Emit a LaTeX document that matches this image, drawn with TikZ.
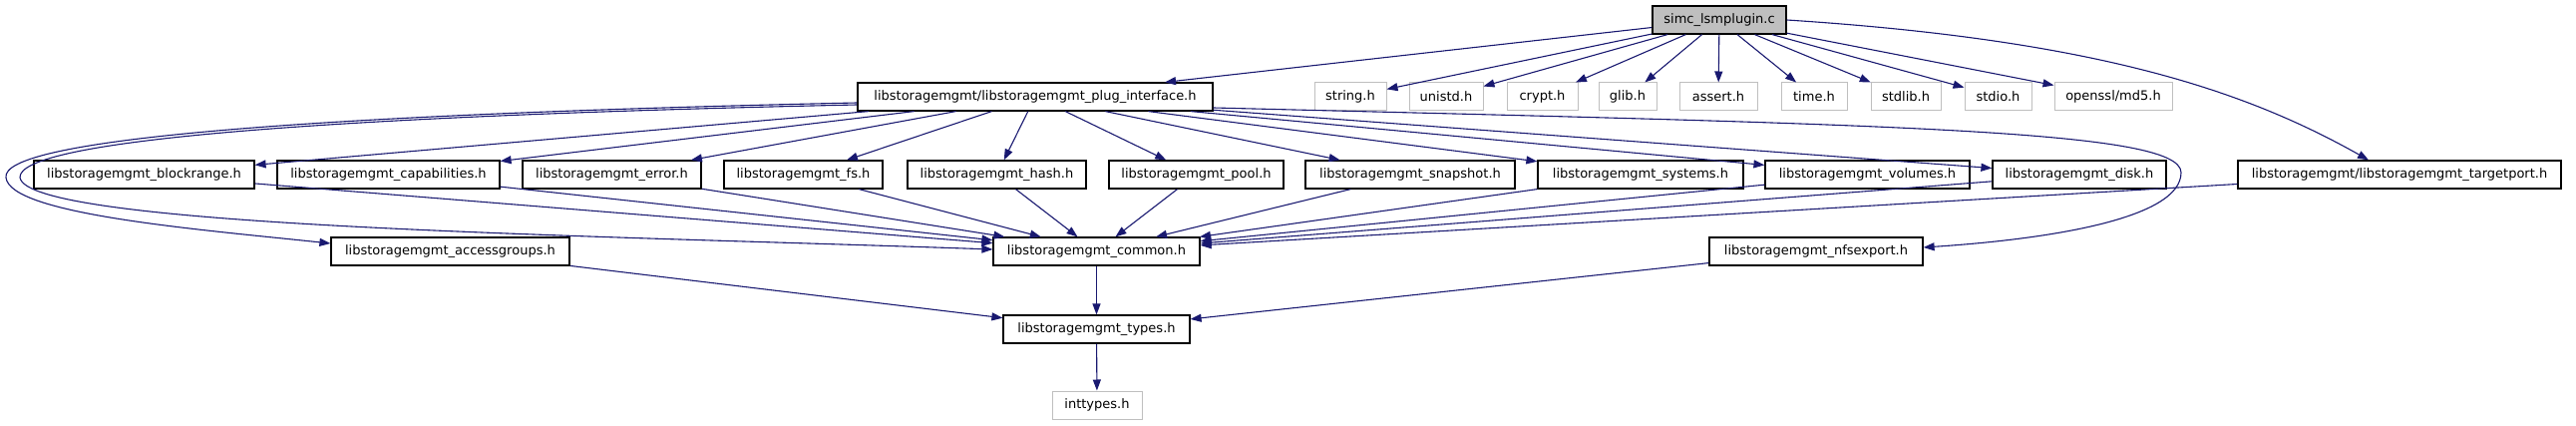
\documentclass[tikz,border=0pt]{standalone}
\usepackage{fontspec}
\setmainfont{DejaVu Sans}
\usetikzlibrary{arrows.meta}
\definecolor{edgeblue}{HTML}{191970}
\definecolor{sysgray}{HTML}{BFBFBF}
\begin{document}
\begin{tikzpicture}[x=1pt,y=-1pt,
  every node/.style={draw,inner sep=0pt,minimum height=28pt,font=\fontsize{13pt}{15pt}\selectfont},
  hdr/.style={line width=1.2pt},
  syshdr/.style={draw=sysgray,line width=1pt},
  srcfile/.style={fill=sysgray,line width=1.2pt},
  dep/.style={->,draw=edgeblue,line width=1.1pt},
  >={Triangle[length=11pt,width=8pt]}]
\useasboundingbox (0,0) rectangle (2583,427);
\node[srcfile,minimum width=134pt] (simc) at (1724,20) {simc\_lsmplugin.c};
\node[hdr,minimum width=356pt] (plug) at (1038,97) {libstoragemgmt/libstoragemgmt\_plug\_interface.h};
\node[syshdr,minimum width=72pt] (string) at (1354,97) {string.h};
\node[syshdr,minimum width=74pt] (unistd) at (1450,97) {unistd.h};
\node[syshdr,minimum width=71pt] (crypt) at (1546.5,97) {crypt.h};
\node[syshdr,minimum width=58pt] (glib) at (1632,97) {glib.h};
\node[syshdr,minimum width=78pt] (assert) at (1723,97) {assert.h};
\node[syshdr,minimum width=66pt] (time) at (1819,97) {time.h};
\node[syshdr,minimum width=70pt] (stdlib) at (1911,97) {stdlib.h};
\node[syshdr,minimum width=67pt] (stdio) at (2003.5,97) {stdio.h};
\node[syshdr,minimum width=118pt] (md5) at (2119,97) {openssl/md5.h};
\node[hdr,minimum width=221pt] (blockrange) at (144.5,175) {libstoragemgmt\_blockrange.h};
\node[hdr,minimum width=223pt] (caps) at (389.5,175) {libstoragemgmt\_capabilities.h};
\node[hdr,minimum width=179pt] (error) at (613.5,175) {libstoragemgmt\_error.h};
\node[hdr,minimum width=159pt] (fs) at (805.5,175) {libstoragemgmt\_fs.h};
\node[hdr,minimum width=179pt] (hash) at (999.5,175) {libstoragemgmt\_hash.h};
\node[hdr,minimum width=175pt] (pool) at (1199.5,175) {libstoragemgmt\_pool.h};
\node[hdr,minimum width=210pt] (snapshot) at (1414,175) {libstoragemgmt\_snapshot.h};
\node[hdr,minimum width=206pt] (systems) at (1645,175) {libstoragemgmt\_systems.h};
\node[hdr,minimum width=205pt] (volumes) at (1872.5,175) {libstoragemgmt\_volumes.h};
\node[hdr,minimum width=174pt] (disk) at (2085,175) {libstoragemgmt\_disk.h};
\node[hdr,minimum width=324pt] (target) at (2406,175) {libstoragemgmt/libstoragemgmt\_targetport.h};
\node[hdr,minimum width=239pt] (access) at (451.5,252) {libstoragemgmt\_accessgroups.h};
\node[hdr,minimum width=207pt] (common) at (1099.5,252) {libstoragemgmt\_common.h};
\node[hdr,minimum width=214pt] (nfs) at (1821,252) {libstoragemgmt\_nfsexport.h};
\node[hdr,minimum width=187pt] (types) at (1099.5,330) {libstoragemgmt\_types.h};
\node[syshdr,minimum width=90pt] (inttypes) at (1100,406) {inttypes.h};
\foreach \t in {plug,string,unistd,crypt,glib,assert,time,stdlib,stdio,md5}
  \draw[dep] (simc) -- (\t);
\draw[dep] (simc.east) .. controls (2100,40) and (2250,90) .. ([xshift=-31pt]target.north);
\foreach \t in {blockrange,caps,error,fs,hash,pool,snapshot,systems,volumes,disk}
  \draw[dep] (plug) -- (\t);
\draw[dep] ([yshift=-6pt]plug.west) .. controls (300,115) and (0,140) .. (6,178) .. controls (10,215) and (200,230) .. ([yshift=8pt]access.west);
\draw[dep] ([yshift=-8pt]plug.west) .. controls (300,117) and (18,142) .. (20,178) .. controls (28,228) and (600,236) .. ([yshift=2pt]common.west);
\draw[dep] ([yshift=-11pt]plug.east) .. controls (1900,125) and (2187,130) .. (2187,173) .. controls (2187,220) and (2050,240) .. ([yshift=4pt]nfs.east);
\foreach \s in {blockrange,caps,error,fs,hash,pool,snapshot,systems,volumes,disk,target}
  \draw[dep] (\s) -- (common);
\draw[dep] (access) -- (types); \draw[dep] (common) -- (types);
\draw[dep] (nfs) -- (types); \draw[dep] (types) -- (inttypes);
\end{tikzpicture}
\end{document}
